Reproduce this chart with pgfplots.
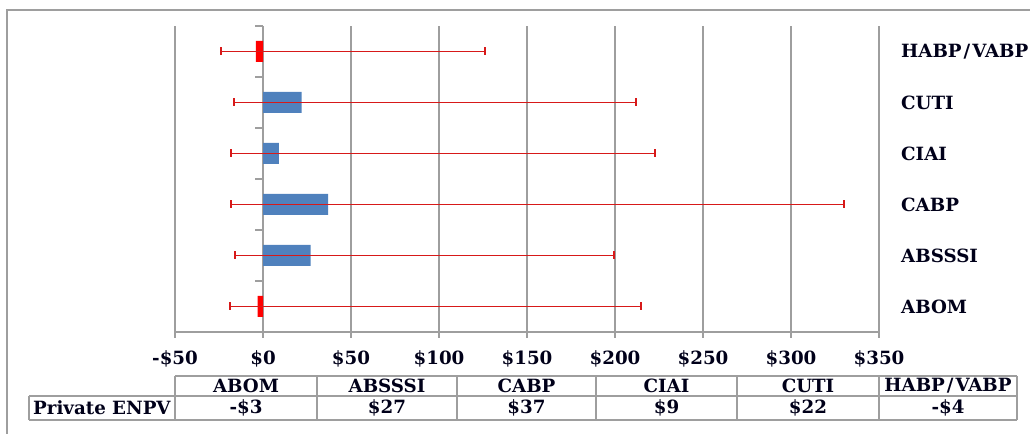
\documentclass[border=0pt]{standalone}
\usepackage{pgfplots}
\pgfplotsset{compat=1.18}
\usepackage{fontspec}
\setmainfont{DejaVu Serif}
\definecolor{gridgray}{RGB}{158,158,158}
\definecolor{barblue}{RGB}{79,129,189}
\definecolor{barred}{RGB}{255,0,0}
\definecolor{errred}{RGB}{215,25,25}
\newcommand{\lblfont}{\bfseries\fontsize{18.3}{20}\selectfont}
\newcommand{\hv}{HABP\kern2bp/\kern2bpVABP}
\begin{document}
\begin{tikzpicture}[x=1bp,y=1bp]
\useasboundingbox (0,0) rectangle (1030,434);
% outer frame (cropped by the page)
\draw[gridgray, line width=1.3bp] (7,-10) -- (7,424) -- (1040,424);
\begin{axis}[
  scale only axis, width=704bp, height=306bp,
  at={(175bp,102bp)}, anchor=south west,
  xmin=-50, xmax=350, ymin=-0.5, ymax=5.5,
  axis x line*=bottom, axis y line*=right,
  y axis line style={draw=none},
  x axis line style={draw=gridgray, line width=1.5bp},
  xtick={-50,0,50,100,150,200,250,300,350},
  xticklabels={-\$50,\$0,\$50,\$100,\$150,\$200,\$250,\$300,\$350},
  xmajorgrids, grid style={gridgray, line width=1.5bp},
  tick align=outside, major tick length=6bp,
  xtick style={draw=gridgray, line width=1.5bp},
  ytick={0,1,2,3,4,5},
  yticklabels={ABOM,ABSSSI,CABP,CIAI,CUTI,\hv},
  ytick style={draw=none},
  tick label style={font=\lblfont, text=black!90!blue},
  yticklabel style={anchor=west, inner sep=0pt, xshift=16bp},
  xticklabel style={anchor=north, inner sep=0pt, yshift=-12bp},
  unbounded coords=jump,
]
\addplot[xbar, bar width=21bp, bar shift=0pt, fill=barblue, draw=none]
  coordinates {(27,1) (37,2) (9,3) (22,4)};
\addplot[xbar, bar width=21bp, bar shift=0pt, fill=barred, draw=none]
  coordinates {(-3,0) (-4,5)};
% error bars: low and high end of each range
\addplot[errred, line width=1.5bp, mark=|, mark size=4bp,
  mark options={line width=2bp, solid}]
  table[x=x, y=pos] {
  x      pos
  -19    0
  215    0

  -16    1
  199.5  1

  -18    2
  330    2

  -18    3
  222.5  3

  -16.5  4
  212    4

  -24    5
  126    5
};
\draw[gridgray, line width=1.5bp] (axis cs:0,-0.5) -- (axis cs:-4.6,-0.5);
\draw[gridgray, line width=1.5bp] (axis cs:0,0.5) -- (axis cs:-4.6,0.5);
\draw[gridgray, line width=1.5bp] (axis cs:0,1.5) -- (axis cs:-4.6,1.5);
\draw[gridgray, line width=1.5bp] (axis cs:0,2.5) -- (axis cs:-4.6,2.5);
\draw[gridgray, line width=1.5bp] (axis cs:0,3.5) -- (axis cs:-4.6,3.5);
\draw[gridgray, line width=1.5bp] (axis cs:0,4.5) -- (axis cs:-4.6,4.5);
\draw[gridgray, line width=1.5bp] (axis cs:0,5.5) -- (axis cs:-4.6,5.5);
\end{axis}
% data table below the chart
\begin{scope}[gridgray, line width=1.3bp]
\draw (175,58) -- (1017,58);
\draw (29,38) -- (1017,38);
\draw (29,14) -- (1017,14);
\draw (29,38) -- (29,14);
\foreach \xx in {175,317,457,596,737,879,1017} {\draw (\xx,58) -- (\xx,14);}
\end{scope}
\begin{scope}[every node/.style={font=\lblfont, text=black!90!blue, inner sep=0pt}]
\node[anchor=west] at (33,26) {Private ENPV};
\node at (246,48) {ABOM};
\node at (387,48) {ABSSSI};
\node at (526.5,48) {CABP};
\node at (666.5,48) {CIAI};
\node at (808,48) {CUTI};
\node at (948,48) {\hv};
\node at (246,26) {-\$3};
\node at (387,26) {\$27};
\node at (526.5,26) {\$37};
\node at (666.5,26) {\$9};
\node at (808,26) {\$22};
\node at (948,26) {-\$4};
\end{scope}
\end{tikzpicture}
\end{document}
